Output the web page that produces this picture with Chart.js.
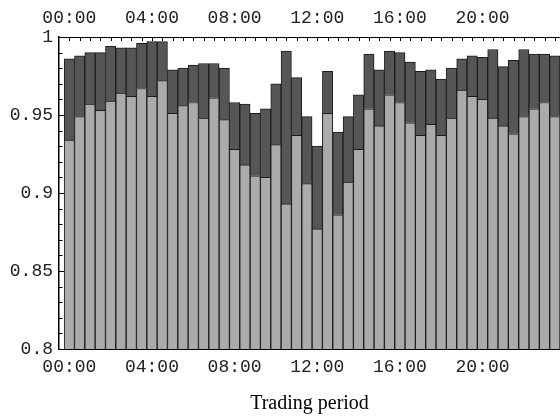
<!DOCTYPE html>
<html>
<head>
<meta charset="utf-8">
<script src="https://cdn.jsdelivr.net/npm/chart.js@4"></script>
<style>
  html, body { margin: 0; padding: 0; background: #fff; }
  canvas { display: block; }
</style>
</head>
<body>
<canvas id="c" width="560" height="416"></canvas>
<script>
// Half-hourly trading periods (48)
const periods = ['00:00','00:30','01:00','01:30','02:00','02:30','03:00','03:30','04:00','04:30','05:00','05:30',
  '06:00','06:30','07:00','07:30','08:00','08:30','09:00','09:30','10:00','10:30','11:00','11:30',
  '12:00','12:30','13:00','13:30','14:00','14:30','15:00','15:30','16:00','16:30','17:00','17:30',
  '18:00','18:30','19:00','19:30','20:00','20:30','21:00','21:30','22:00','22:30','23:00','23:30'];

// Light (lower) series top values
const lowerValues = [0.934,0.949,0.957,0.953,0.959,0.964,0.962,0.967,0.962,0.972,
  0.951,0.956,0.958,0.948,0.961,0.947,0.928,0.918,0.911,0.910,
  0.931,0.893,0.937,0.906,0.877,0.951,0.886,0.907,0.928,0.954,
  0.943,0.963,0.958,0.945,0.937,0.944,0.937,0.948,0.966,0.962,
  0.960,0.948,0.943,0.938,0.949,0.954,0.958,0.949];

// Dark (upper) series top values
const upperValues = [0.986,0.988,0.990,0.990,0.994,0.993,0.993,0.996,0.997,0.997,
  0.979,0.980,0.982,0.983,0.983,0.980,0.958,0.957,0.951,0.954,
  0.970,0.991,0.974,0.949,0.930,0.978,0.939,0.949,0.963,0.989,
  0.979,0.991,0.990,0.984,0.978,0.979,0.973,0.980,0.986,0.988,
  0.987,0.992,0.981,0.985,0.992,0.989,0.989,0.988];

const baseValue = 0.8;

// Tick labels
const xTickLabels = ['00:00','04:00','08:00','12:00','16:00','20:00'];
const yTickValues = [0.8, 0.85, 0.9, 0.95, 1];
const yTickLabels = ['0.8','0.85','0.9','0.95','1'];
const xTitle = 'Trading period';

const xTickValues = xTickLabels.map(l => periods.indexOf(l));

const lightData = periods.map((p, i) => ({ x: i, y: [baseValue, lowerValues[i]] }));
const darkData = periods.map((p, i) => ({ x: i, y: [lowerValues[i], upperValues[i]] }));

const monoFont = { family: "'Liberation Mono', 'DejaVu Sans Mono', monospace", size: 18 };

function setXTicks(scale) {
  scale.ticks = xTickValues.map(v => ({ value: v }));
}
function xLabel(value) {
  const idx = xTickValues.indexOf(value);
  return idx >= 0 ? xTickLabels[idx] : '';
}

const innerTicks = {
  id: 'innerTicks',
  afterDatasetsDraw(chart) {
    const ctx = chart.ctx;
    const area = chart.chartArea;
    const xs = chart.scales.x;
    const ys = chart.scales.y;
    ctx.save();
    ctx.strokeStyle = '#000';
    ctx.lineWidth = 1;
    ctx.beginPath();
    for (let i = 0; i < periods.length; i++) {
      const px = Math.round(xs.getPixelForValue(i)) + 0.5;
      if (px > area.right) continue;
      ctx.moveTo(px, area.top);
      ctx.lineTo(px, area.top + 4);
    }
    for (let k = 0; k <= 20; k++) {
      const v = 0.8 + k * 0.01;
      const py = Math.round(ys.getPixelForValue(v)) + 0.5;
      ctx.moveTo(area.left, py);
      ctx.lineTo(area.left + (k % 5 === 0 ? 5 : 3.5), py);
    }
    ctx.stroke();
    ctx.restore();
  }
};

new Chart(document.getElementById('c'), {
  type: 'bar',
  data: {
    datasets: [
      {
        data: lightData,
        backgroundColor: '#ababab',
        borderColor: '#1c1c1c',
        borderWidth: 1,
        grouped: false,
        barPercentage: 1,
        categoryPercentage: 1
      },
      {
        data: darkData,
        backgroundColor: '#565656',
        borderColor: '#1c1c1c',
        borderWidth: 1,
        grouped: false,
        barPercentage: 1,
        categoryPercentage: 1
      }
    ]
  },
  options: {
    responsive: false,
    animation: false,
    layout: { padding: 0 },
    plugins: { legend: { display: false }, tooltip: { enabled: false } },
    scales: {
      x: {
        type: 'linear',
        position: 'bottom',
        offset: false,
        bounds: 'ticks',
        min: -1,
        max: 47.5,
        grid: { display: false, drawTicks: false, offset: false },
        border: { display: true, color: '#000', width: 1 },
        afterBuildTicks: setXTicks,
        afterFit: s => { s.height = 67; },
        ticks: {
          font: monoFont, color: '#222', padding: 7,
          maxRotation: 0, autoSkip: false,
          callback: v => xLabel(v)
        },
        title: {
          display: true, text: xTitle, color: '#000',
          font: { family: "'Liberation Serif', 'DejaVu Serif', serif", size: 20 },
          padding: { top: 0, bottom: 0 }
        }
      },
      x2: {
        type: 'linear',
        position: 'top',
        offset: false,
        min: -1,
        max: 47.5,
        grid: { display: false, drawTicks: false, offset: false },
        border: { display: true, color: '#000', width: 1 },
        afterBuildTicks: setXTicks,
        afterFit: s => { s.height = 37; },
        ticks: {
          font: monoFont, color: '#222', padding: 8,
          maxRotation: 0, autoSkip: false,
          callback: v => xLabel(v)
        }
      },
      y: {
        min: 0.8,
        max: 1,
        grid: { display: false, drawTicks: false },
        border: { display: true, color: '#000', width: 1.5 },
        afterBuildTicks: s => { s.ticks = yTickValues.map(v => ({ value: v })); },
        afterFit: s => { s.width = 59; },
        ticks: {
          font: monoFont, color: '#222', padding: 6,
          callback: v => { const i = yTickValues.findIndex(t => Math.abs(t - v) < 1e-9); return i >= 0 ? yTickLabels[i] : ''; }
        }
      }
    }
  },
  plugins: [innerTicks]
});
</script>
</body>
</html>
